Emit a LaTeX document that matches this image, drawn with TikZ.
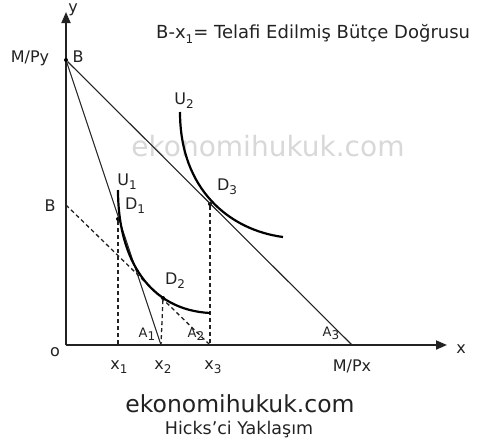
\documentclass[tikz,border=0pt]{standalone}
\usepackage{fontspec}
\setmainfont{DejaVu Sans}
\usetikzlibrary{arrows.meta}
\definecolor{ink}{HTML}{222222}
\definecolor{wm}{HTML}{D8D8D8}
\newcommand\lowsub[1]{\raisebox{-0.45ex}{\fontsize{12}{13}\selectfont #1}}
\begin{document}
\begin{tikzpicture}[x=1pt,y=-1pt,
  lbl/.style={inner sep=0pt,text=ink,font=\fontsize{16}{18}\selectfont},
  small/.style={inner sep=0pt,text=ink,font=\fontsize{13}{15}\selectfont},
  axis/.style={line width=1.8pt,draw=ink,-{Triangle[length=11pt,width=9pt]}},
  budget/.style={line width=1.1pt,draw=ink},
  icurve/.style={line width=2.2pt,draw=black},
  guide/.style={line width=1.3pt,draw=ink,dash pattern=on 4pt off 3pt},
  dot/.style={circle,fill=black,inner sep=0pt,minimum size=4pt}]
\useasboundingbox (0,0) rectangle (479,447);
% watermark
\node[text=wm,font=\fontsize{28}{30}\selectfont] (wmk) at (268,146) {ekonomihukuk.com};
% axes
\coordinate (O) at (66,345);
\coordinate (ytop) at (66,12);
\coordinate (xend) at (447,345);
\draw[axis] (O) -- (ytop);
\draw[axis] (O) -- (xend);
\node[lbl] (ylab) at (73,10) {y};
\node[lbl] (xlab) at (461,349) {x};
\node[lbl] (olab) at (55,352) {o};
% key points
\node[dot] (B) at (66,60) {};
\coordinate (MPx) at (352,345);
\coordinate (X1) at (118,345);
\coordinate (X2) at (161,345);
\coordinate (X3) at (210,345);
\coordinate (Bp) at (66,205);
\node[dot] (D1) at (118,219) {};
\node[dot] (D2) at (163,298) {};
\node[dot] (D3) at (210,204) {};
% budget lines
\draw[budget] (B) -- (MPx);
\draw[budget] (B) -- (X2);
\draw[guide] (Bp) -- (X3);
% guides
\draw[guide] (D1) -- (X1);
\draw[guide] (D2) -- (X2);
\draw[guide] (D3) -- (X3);
% indifference curves
\draw[icurve] (118,190) .. controls (118,260) and (150,310) .. (210,313);
\draw[icurve] (180,112) .. controls (180,190) and (230,230) .. (283,237);
% labels
\node[lbl] (mpy) at (30,58) {M/Py};
\node[lbl] (blab) at (78,57) {B};
\node[lbl] (bplab) at (50,206) {B};
\node[lbl] (u2) at (184,101) {U\lowsub{2}};
\node[lbl] (u1) at (127,182) {U\lowsub{1}};
\node[lbl] (d1) at (135,206) {D\lowsub{1}};
\node[lbl] (d2) at (175,281) {D\lowsub{2}};
\node[lbl] (d3) at (227,187) {D\lowsub{3}};
\node[small] (a1) at (147,334) {A\lowsub{1}};
\node[small] (a2) at (196,334) {A\lowsub{2}};
\node[small] (a3) at (331,333) {A\lowsub{3}};
\node[lbl] (x1l) at (119,367) {x\lowsub{1}};
\node[lbl] (x2l) at (163,367) {x\lowsub{2}};
\node[lbl] (x3l) at (213,367) {x\lowsub{3}};
\node[lbl] (mpx) at (352,366) {M/Px};
\node[inner sep=0pt,text=ink,font=\fontsize{18}{20}\selectfont,anchor=west] (title) at (156,34) {B-x\lowsub{1}= Telafi Edilmiş Bütçe Doğrusu};
\node[inner sep=0pt,text=ink,font=\fontsize{23.5}{25}\selectfont] (site) at (240,404) {ekonomihukuk.com};
\node[inner sep=0pt,text=ink,font=\fontsize{17.5}{19}\selectfont] (sub) at (239,430) {Hicks’ci Yaklaşım};
\end{tikzpicture}
\end{document}
